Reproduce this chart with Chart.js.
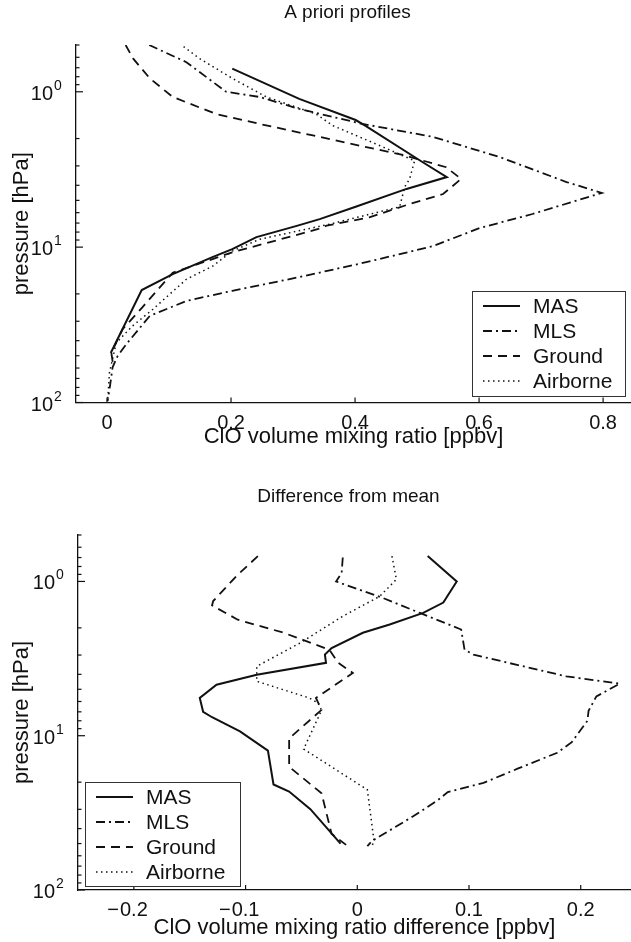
<!DOCTYPE html>
<html>
<head>
    <meta charset="utf-8"/>
    <title>ClO profiles</title>
    <script src="https://cdn.jsdelivr.net/npm/chart.js"></script>
    <style>
        body { margin: 0; background: #fff; }
        #wrap { position: relative; width: 631px; height: 942px; }
        .box { position: absolute; left: 0; width: 631px; }
        #box1 { top: 0; height: 460px; }
        #box2 { top: 460px; height: 482px; }
    </style>
</head>
<body>
<div id="wrap">
    <div class="box" id="box1"><canvas id="aprioriChart"></canvas></div>
    <div class="box" id="box2"><canvas id="diffChart"></canvas></div>
</div>

<script>
    // Series names (same order in both panels)
    const seriesNames = ['MAS', 'MLS', 'Ground', 'Airborne'];

    // --- A priori profiles: ClO [ppbv] vs pressure [hPa] ---
    const masAprioriX = [0.202, 0.310, 0.401, 0.417, 0.506, 0.548, 0.483, 0.401, 0.343, 0.306, 0.241, 0.202, 0.170, 0.106, 0.056, 0.006];
    const masAprioriP = [0.71, 1.11, 1.52, 1.66, 2.79, 3.54, 4.22, 5.5, 6.6, 7.3, 8.62, 10.3, 11.6, 14.9, 18.9, 48];

    const mlsAprioriX = [0.068, 0.128, 0.192, 0.246, 0.310, 0.412, 0.525, 0.633, 0.741, 0.798, 0.686, 0.601, 0.525, 0.418, 0.310, 0.202, 0.128, 0.069, 0.031, 0.017, 0.009, 0.004, 0.001];
    const mlsAprioriP = [0.50, 0.645, 1.0, 1.08, 1.29, 1.61, 1.95, 2.63, 3.81, 4.48, 6.12, 7.54, 9.86, 12.5, 15.6, 19.1, 22.2, 27.7, 42.2, 50.3, 59.4, 82.5, 98];

    const groundAprioriX = [0.030, 0.042, 0.069, 0.106, 0.176, 0.246, 0.332, 0.418, 0.477, 0.547, 0.571, 0.542, 0.488, 0.423, 0.354, 0.343, 0.202, 0.106, 0.057, 0.025, 0.007, 0.010];
    const groundAprioriP = [0.50, 0.61, 0.82, 1.08, 1.39, 1.61, 1.91, 2.27, 2.55, 3.06, 3.64, 4.55, 5.28, 6.43, 7.28, 7.6, 10.8, 14.6, 24.4, 33.8, 47.8, 58];

    const airAprioriX = [0.117, 0.149, 0.202, 0.257, 0.337, 0.364, 0.434, 0.496, 0.488, 0.480, 0.472, 0.360, 0.246, 0.202, 0.171, 0.128, 0.074, 0.041, 0.015, 0.004, 0.001];
    const airAprioriP = [0.49, 0.61, 0.82, 1.08, 1.39, 1.65, 2.17, 2.78, 3.64, 4.1, 5.5, 7.1, 8.9, 10.6, 13.2, 16.1, 25.1, 32.2, 41.2, 64, 98];

    // --- Difference from mean [ppbv] vs pressure [hPa] ---
    const masDiffX = [0.063, 0.089, 0.077, 0.059, 0.029, 0.005, -0.023, -0.029, -0.028, -0.090, -0.126, -0.141, -0.138, -0.130, -0.105, -0.080, -0.075, -0.061, -0.042, -0.015];
    const masDiffP = [0.685, 1.0, 1.37, 1.6, 1.9, 2.15, 2.7, 2.98, 3.37, 4.02, 4.67, 5.69, 7.0, 7.59, 9.37, 12.5, 20.7, 23, 29.9, 50];

    const mlsDiffX = [-0.013, -0.014, -0.019, 0.023, 0.056, 0.093, 0.096, 0.104, 0.142, 0.187, 0.235, 0.214, 0.207, 0.206, 0.192, 0.179, 0.144, 0.113, 0.081, 0.072, 0.050, 0.013, 0.009];
    const mlsDiffP = [0.70, 0.88, 1.0, 1.28, 1.6, 2.05, 2.77, 2.98, 3.46, 4.12, 4.6, 5.56, 6.9, 8.0, 11.0, 12.9, 16.3, 20.2, 23.2, 26.2, 33.3, 48.2, 52];

    const groundDiffX = [-0.089, -0.108, -0.129, -0.130, -0.107, -0.066, -0.025, -0.017, -0.004, -0.037, -0.032, -0.061, -0.061, -0.032, -0.023, -0.010];
    const groundDiffP = [0.685, 0.92, 1.34, 1.43, 1.77, 2.15, 2.77, 3.37, 3.92, 5.69, 6.8, 10.4, 15.9, 23.6, 43.3, 51];

    const airDiffX = [0.031, 0.035, 0.020, -0.013, -0.051, -0.090, -0.090, -0.043, -0.035, -0.032, -0.048, 0.009, 0.015, 0.013];
    const airDiffP = [0.685, 0.97, 1.25, 1.68, 2.5, 3.55, 4.44, 5.69, 6.15, 6.84, 12.2, 22.4, 48.2, 52];

    // Axis ticks and labels
    const xTicksApriori = [0, 0.2, 0.4, 0.6, 0.8];
    const xLabelsApriori = ['0', '0.2', '0.4', '0.6', '0.8'];
    const xTicksDiff = [-0.2, -0.1, 0, 0.1, 0.2];
    const xLabelsDiff = ['\u22120.2', '\u22120.1', '0', '0.1', '0.2'];
    const yMajorTicks = [1, 10, 100];
    const yMajorExp = ['0', '1', '2'];
    const yMinorTicks = [0.5, 0.6, 0.7, 0.8, 0.9, 2, 3, 4, 5, 6, 7, 8, 9, 20, 30, 40, 50, 60, 70, 80, 90];

    const FONT = '"Liberation Sans", Arial, Helvetica, sans-serif';
    const INK = '#111';

    const lineStyles = [
        { borderDash: [], borderWidth: 2 },
        { borderDash: [9, 4, 2, 4], borderWidth: 1.8 },
        { borderDash: [9, 6], borderWidth: 1.8 },
        { borderDash: [1.5, 3.5], borderWidth: 1.5 }
    ];

    function toPoints(xs, ps) {
        return xs.map((x, i) => ({ x: x, y: ps[i] }));
    }

    function makeDatasets(pairs) {
        return pairs.map((pr, i) => Object.assign({
            label: seriesNames[i],
            data: toPoints(pr[0], pr[1]),
            showLine: true,
            fill: false,
            pointRadius: 0,
            tension: 0,
            borderColor: INK,
            borderCapStyle: 'butt'
        }, lineStyles[i]));
    }

    // Ticks pointing inwards, labels, titles and the boxed legend
    const decorPlugin = {
        id: 'decor',
        afterDraw(chart, args, o) {
            const ctx = chart.ctx;
            const a = chart.chartArea;
            const xs = chart.scales.x;
            const ys = chart.scales.y;
            ctx.save();
            ctx.strokeStyle = INK;
            ctx.fillStyle = INK;
            ctx.lineWidth = 1.2;

            function seg(x1, y1, x2, y2) {
                ctx.beginPath();
                ctx.moveTo(x1, y1);
                ctx.lineTo(x2, y2);
                ctx.stroke();
            }

            yMinorTicks.forEach(v => {
                const py = ys.getPixelForValue(v);
                seg(a.left, py, a.left + 3.5, py);
            });
            yMajorTicks.forEach((v, i) => {
                const py = ys.getPixelForValue(v);
                seg(a.left, py, a.left + 7, py);
                ctx.textBaseline = 'alphabetic';
                ctx.font = '20px ' + FONT;
                ctx.textAlign = 'right';
                ctx.fillText('10', a.left - 23, py + 8);
                ctx.font = '14px ' + FONT;
                ctx.textAlign = 'left';
                ctx.fillText(yMajorExp[i], a.left - 22, py - 2);
            });

            ctx.font = '20px ' + FONT;
            ctx.textBaseline = 'alphabetic';
            o.xTicks.forEach((v, i) => {
                const px = xs.getPixelForValue(v);
                seg(px, a.bottom, px, a.bottom - 5);
                const s = o.xLabels[i];
                const neg = s.charAt(0) === '\u2212';
                const digits = neg ? s.slice(1) : s;
                ctx.textAlign = 'center';
                ctx.fillText(digits, px, a.bottom + 26);
                if (neg) {
                    const w = ctx.measureText(digits).width;
                    ctx.textAlign = 'right';
                    ctx.fillText('\u2212', px - w / 2 - 1, a.bottom + 26);
                }
            });

            // titles
            const cx = (a.left + a.right) / 2;
            ctx.textAlign = 'center';
            ctx.textBaseline = 'middle';
            ctx.font = '19px ' + FONT;
            ctx.fillText(o.title, cx + o.titleDx, o.titleY);
            ctx.font = '22px ' + FONT;
            ctx.fillText(o.xTitle, cx, o.xTitleY);
            ctx.save();
            ctx.translate(22, (a.top + a.bottom) / 2);
            ctx.rotate(-Math.PI / 2);
            ctx.fillText('pressure [hPa]', 0, 0);
            ctx.restore();

            // legend
            const L = o.legend;
            ctx.fillStyle = '#fff';
            ctx.fillRect(L.x, L.y, L.w, L.h);
            ctx.lineWidth = 1;
            ctx.strokeStyle = '#333';
            ctx.strokeRect(L.x + 0.5, L.y + 0.5, L.w, L.h);
            ctx.fillStyle = INK;
            ctx.strokeStyle = INK;
            ctx.font = '21px ' + FONT;
            ctx.textAlign = 'left';
            ctx.textBaseline = 'middle';
            chart.data.datasets.forEach((ds, i) => {
                const ry = L.y + 15 + i * 25;
                ctx.lineWidth = ds.borderWidth;
                ctx.setLineDash(ds.borderDash);
                seg(L.x + 11, ry, L.x + 48, ry);
                ctx.setLineDash([]);
                ctx.fillText(ds.label, L.x + 61, ry + 1);
            });
            ctx.restore();
        }
    };

    function makeChart(id, datasets, cfg) {
        return new Chart(document.getElementById(id), {
            type: 'scatter',
            data: { datasets: datasets },
            options: {
                responsive: true,
                maintainAspectRatio: false,
                animation: false,
                layout: { padding: { top: cfg.padTop, left: 0, right: 0, bottom: 0 } },
                plugins: {
                    legend: { display: false },
                    tooltip: { enabled: false },
                    decor: cfg
                },
                scales: {
                    x: {
                        type: 'linear',
                        min: cfg.xMin,
                        max: cfg.xMax,
                        grid: { display: false, drawTicks: false },
                        border: { display: true, color: INK, width: 1.3 },
                        ticks: { display: false },
                        afterFit: s => { s.height = cfg.xAxisHeight; }
                    },
                    y: {
                        type: 'logarithmic',
                        min: 0.5,
                        max: 100,
                        reverse: true,
                        grid: { display: false, drawTicks: false },
                        border: { display: true, color: INK, width: 1.3 },
                        ticks: { display: false },
                        afterFit: s => { s.width = cfg.yAxisWidth; }
                    }
                }
            },
            plugins: [decorPlugin]
        });
    }

    makeChart('aprioriChart', makeDatasets([
        [masAprioriX, masAprioriP],
        [mlsAprioriX, mlsAprioriP],
        [groundAprioriX, groundAprioriP],
        [airAprioriX, airAprioriP]
    ]), {
        padTop: 45, xAxisHeight: 57.5, yAxisWidth: 76,
        xMin: -0.05, xMax: 0.845,
        xTicks: xTicksApriori, xLabels: xLabelsApriori,
        title: 'A priori profiles', titleY: 13, titleDx: -6,
        xTitle: 'ClO volume mixing ratio [ppbv]', xTitleY: 437,
        legend: { x: 472, y: 291, w: 153, h: 105 }
    });

    makeChart('diffChart', makeDatasets([
        [masDiffX, masDiffP],
        [mlsDiffX, mlsDiffP],
        [groundDiffX, groundDiffP],
        [airDiffX, airDiffP]
    ]), {
        padTop: 75, xAxisHeight: 52, yAxisWidth: 78,
        xMin: -0.25, xMax: 0.245,
        xTicks: xTicksDiff, xLabels: xLabelsDiff,
        title: 'Difference from mean', titleY: 37, titleDx: -6,
        xTitle: 'ClO volume mixing ratio difference [ppbv]', xTitleY: 468,
        legend: { x: 85, y: 322, w: 155, h: 104 }
    });
</script>
</body>
</html>
